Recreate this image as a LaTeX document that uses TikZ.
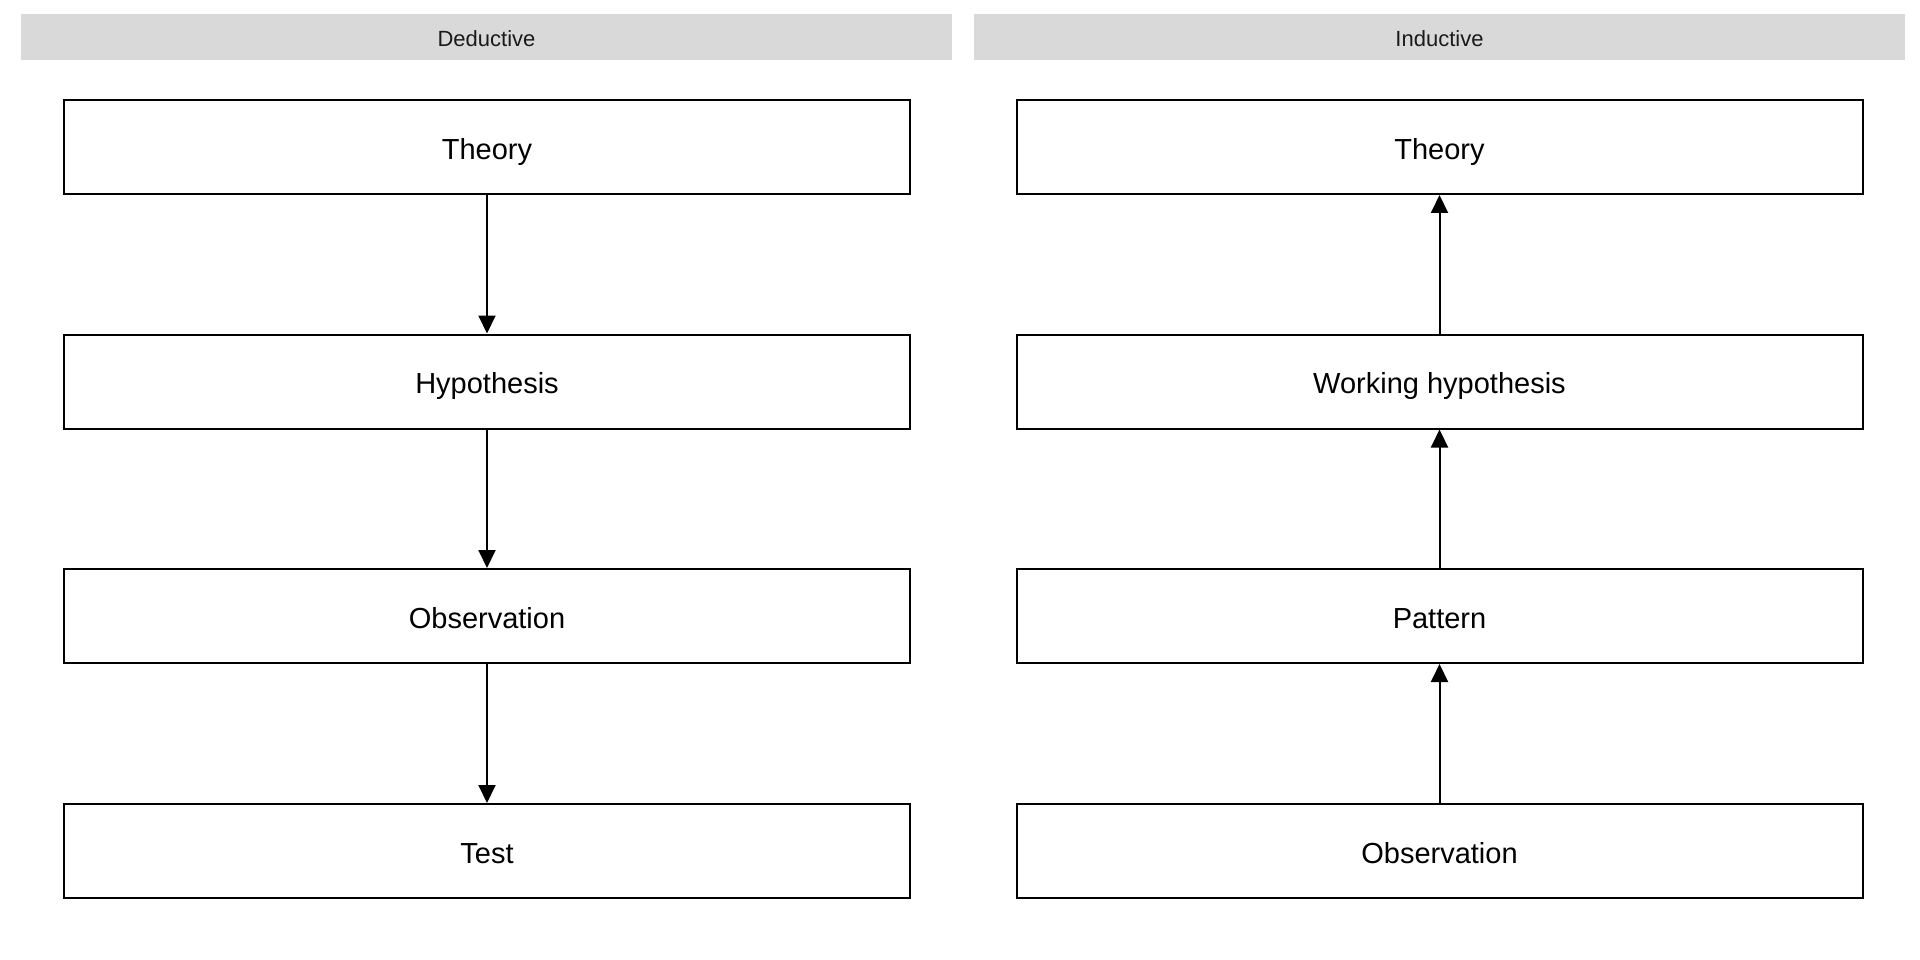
\documentclass[tikz,border=0pt]{standalone}
\usepackage{fontspec}
\setmainfont{Liberation Sans}
\usetikzlibrary{arrows.meta}
\definecolor{stripgray}{HTML}{D9D9D9}
\definecolor{striptext}{HTML}{1A1A1A}
\tikzset{
  stepbox/.style={draw=black, line width=2pt, fill=white, minimum width=846pt, minimum height=94pt, inner sep=0pt, text height=24.6pt, text depth=0pt, font=\fontsize{29}{34}\selectfont},
  strip/.style={fill=stripgray, draw=none, minimum width=931pt, minimum height=46pt, inner sep=0pt, text height=19.4pt, text depth=0pt, text=striptext, font=\fontsize{22}{26}\selectfont},
  link/.style={line width=2pt, -{Triangle[length=18pt,width=17pt]}}
}
\begin{document}
\begin{tikzpicture}[x=1pt,y=-1pt]
\useasboundingbox[fill=white] (0,0) rectangle (1920,960);
\node[strip] (hd) at (486.5,37) {Deductive};
\node[strip] (hi) at (1439.5,37) {Inductive};
% Deductive
\node[stepbox] (d1) at (487,147) {Theory};
\node[stepbox] (d2) at (487,381.5) {Hypothesis};
\node[stepbox] (d3) at (487,616) {Observation};
\node[stepbox] (d4) at (487,851) {Test};
\draw[link] (d1.south) -- (d2.north);
\draw[link] (d2.south) -- (d3.north);
\draw[link] (d3.south) -- (d4.north);
% Inductive
\node[stepbox] (i1) at (1439.5,147) {Theory};
\node[stepbox] (i2) at (1439.5,381.5) {Working hypothesis};
\node[stepbox] (i3) at (1439.5,616) {Pattern};
\node[stepbox] (i4) at (1439.5,851) {Observation};
\draw[link] (i4.north) -- (i3.south);
\draw[link] (i3.north) -- (i2.south);
\draw[link] (i2.north) -- (i1.south);
\end{tikzpicture}
\end{document}
